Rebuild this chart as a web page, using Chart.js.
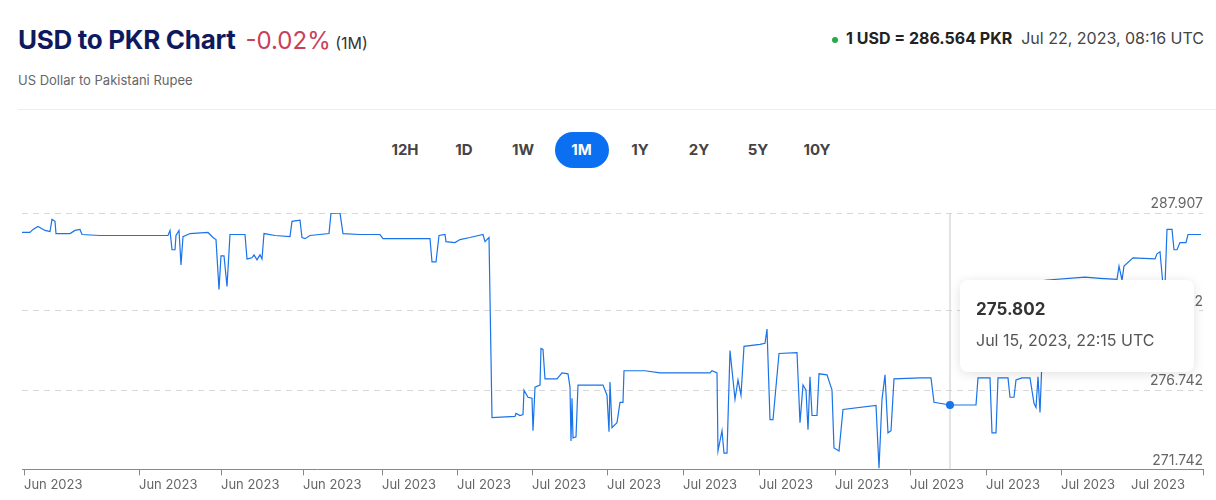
<!DOCTYPE html>
<html>
<head>
<meta charset="utf-8">
<script src="https://cdn.jsdelivr.net/npm/chart.js@4"></script>
<style>
  body { margin:0; width:1216px; height:500px; background:#fff; font-family:Inter, "Noto Sans", sans-serif; position:relative; overflow:hidden; }
  #title { position:absolute; left:18px; top:24px; white-space:nowrap; }
  #title .t { font-size:26px; font-weight:700; color:#0f1a5e; letter-spacing:-0.3px; }
  #title .p { font-size:24px; color:#c8405a; margin-left:10px; }
  #title .m { font-size:16px; color:#333; }
  #sub { position:absolute; left:18px; top:72px; font-size:13px; color:#666; }
  #rate { position:absolute; right:12px; top:28px; font-size:16px; color:#444; white-space:nowrap; }
  #rate b { color:#222; }
  #rate .dot { display:inline-block; width:6px; height:6px; border-radius:50%; background:#2aa84a; margin-right:8px; vertical-align:middle; }
  #hr { position:absolute; left:18px; right:0; top:109px; border-top:1px solid #eee; }
  #btns { position:absolute; left:0; width:1222px; top:132px; display:flex; justify-content:center; }
  #btns span { width:59px; height:36px; line-height:36px; text-align:center; font-size:15px; font-weight:700; color:#444; }
  #btns span.on { background:#0a6ff0; color:#fff; border-radius:18px; width:54px; margin:0 2px; }
  #wrap { position:absolute; left:0; top:190px; width:1216px; height:305px; }
  #tip { position:absolute; left:960px; top:280px; width:234px; height:92px; background:#fff; border-radius:8px; box-shadow:0 2px 12px rgba(0,0,0,0.12); }
  #tip .v { position:absolute; left:16px; top:19px; font-size:17px; font-weight:700; color:#333; }
  #tip .d { position:absolute; left:16px; top:50px; font-size:16px; color:#555; }
</style>
</head>
<body>
<div id="title"><span class="t">USD to PKR Chart</span><span class="p">-0.02%</span> <span class="m">(1M)</span></div>
<div id="sub">US Dollar to Pakistani Rupee</div>
<div id="rate"><span class="dot"></span><b>1 USD = 286.564 PKR</b>&nbsp; Jul 22, 2023, 08:16 UTC</div>
<div id="hr"></div>
<div id="btns"><span>12H</span><span>1D</span><span>1W</span><span class="on">1M</span><span>1Y</span><span>2Y</span><span>5Y</span><span>10Y</span></div>
<div id="wrap"><canvas id="myChart"></canvas></div>
<div id="tip"><div class="v">275.802</div><div class="d">Jul 15, 2023, 22:15 UTC</div></div>
<script>
'use strict';
// time step (0..1181 across the month) and rate
let steps = [0,8,11,16,23,28,30,33,34,48,53,58,60,78,146,148,150,153,154,157,159,161,168,186,191,194,197,199,202,205,208,223,225,230,232,235,238,240,242,253,268,270,278,280,283,288,307,309,318,321,338,358,361,373,408,410,414,417,423,424,433,438,448,461,463,467,470,
  493,494,498,501,502,506,510,511,513,518,519,521,523,535,540,546,548,549,550,551,554,556,581,585,587,588,590,595,598,601,602,623,638,688,690,695,696,700,702,705,708,713,716,719,722,738,743,745,748,751,757,775,778,781,784,786,788,790,795,797,805,810,812,817,821,854,857,860,863,866,869,872,898,909,912,928,954,956,968,970,974,976,986,988,992,994,1000,1008,1012,1014,1016,1018,1023,1063,1078,1095,1097,1100,1102,1111,1133,1135,1138,1141,1143,1145,1150,1152,1155,1158,1164,1166,1179];
let rates = [286.68,286.68,286.87,287.06,286.81,286.74,287.51,287.38,286.61,286.61,286.81,286.87,286.55,286.49,286.49,286.81,285.59,285.59,286.49,286.81,284.63,286.42,286.61,286.68,286.36,286.23,283.09,285.20,285.20,283.28,286.55,286.55,285.01,285.08,285.27,284.95,285.27,285.01,286.61,286.49,286.42,287.38,287.45,286.36,286.29,286.49,286.61,287.90,287.90,286.61,286.55,286.55,286.29,286.29,286.29,284.82,284.82,286.49,286.55,286.10,286.04,286.23,286.36,286.55,286.10,286.36,275.01,
  275.08,275.27,275.14,275.20,276.74,276.29,276.23,274.18,276.93,277.06,279.37,279.31,277.45,277.45,277.83,277.77,276.93,273.54,276.23,273.73,273.79,277.06,277.06,276.42,274.11,277.25,274.37,274.69,275.97,275.97,277.96,277.96,277.83,277.83,277.96,277.83,272.90,274.18,272.77,272.77,279.24,276.16,277.38,276.42,279.50,279.63,279.69,280.59,274.88,274.88,279.05,279.11,274.69,277.06,276.74,274.24,277.58,275.14,275.14,277.77,277.70,276.74,273.09,272.90,275.52,275.78,271.81,276.16,277.70,274.05,274.18,277.45,277.51,277.51,275.97,275.802,275.802,277.51,277.51,274.05,274.05,277.51,277.51,276.29,276.29,277.38,277.51,277.51,275.91,275.65,277.58,275.33,283.67,283.86,283.79,283.73,284.56,283.67,284.56,285.08,285.01,285.33,285.46,283.34,283.34,286.87,286.87,285.59,285.59,286.04,286.04,286.55,286.55];
let tickSteps = [2,117,199,281,360,435,510,585,661,737,813,888,964,1039,1109,1181];
let tickLabels = ['Jun 2023','Jun 2023','Jun 2023','Jun 2023','Jul 2023','Jul 2023','Jul 2023','Jul 2023','Jul 2023','Jul 2023','Jul 2023','Jul 2023','Jul 2023','Jul 2023','Jul 2023',''];
let yTicks = [271.742,276.742,281.742,287.907];
let hoverStep = 928;

let points = steps.map((s, i) => ({ x: s, y: rates[i] }));
let hoverIndex = steps.indexOf(hoverStep);

let crossLine = {
  id: 'crossLine',
  afterDatasetsDraw(chart) {
    let ctx = chart.ctx;
    let x = chart.scales.x.getPixelForValue(hoverStep);
    ctx.save();
    ctx.strokeStyle = '#c8c8c8';
    ctx.lineWidth = 1;
    ctx.beginPath();
    ctx.moveTo(x, chart.chartArea.top);
    ctx.lineTo(x, chart.chartArea.bottom);
    ctx.stroke();
    let pt = chart.getDatasetMeta(0).data[hoverIndex];
    ctx.fillStyle = '#1a73e8';
    ctx.beginPath();
    ctx.arc(pt.x, pt.y, 4, 0, Math.PI * 2);
    ctx.fill();
    ctx.restore();
  }
};

let ctx = document.getElementById('myChart').getContext('2d');
let myChart = new Chart(ctx, {
  type: 'line',
  data: {
    datasets: [{
      data: points,
      borderColor: '#1a73e8',
      borderWidth: 1.2,
      pointRadius: 0,
      tension: 0
    }]
  },
  options: {
    responsive: true,
    maintainAspectRatio: false,
    animation: false,
    events: [],
    layout: { padding: { left: 22, right: 13, top: 23 } },
    plugins: { legend: { display: false }, tooltip: { enabled: false } },
    scales: {
      x: {
        type: 'linear', min: 0, max: 1181,
        afterBuildTicks: (scale) => { scale.ticks = tickSteps.map(v => ({ value: v })); },
        grid: {
          drawOnChartArea: false, drawTicks: true, tickLength: 6,
          tickColor: (c) => c.index === 14 ? 'rgba(0,0,0,0)' : '#888'
        },
        border: { display: true, color: '#888' },
        ticks: {
          autoSkip: false, maxRotation: 0, align: 'start', padding: 2,
          color: '#666', font: { family: 'Inter', size: 13 },
          callback: (v, i) => tickLabels[i]
        }
      },
      y: {
        type: 'linear', position: 'right', min: 271.742, max: 287.907,
        afterBuildTicks: (scale) => { scale.ticks = yTicks.map(v => ({ value: v })); },
        grid: { color: '#d8d8d8', drawTicks: false },
        border: { display: false, dash: [6, 5] },
        ticks: {
          mirror: true, padding: 0, labelOffset: -9,
          color: '#666', font: { family: 'Inter', size: 14 },
          callback: (v) => v.toFixed(3)
        }
      }
    }
  },
  plugins: [crossLine]
});
</script>
</body>
</html>
